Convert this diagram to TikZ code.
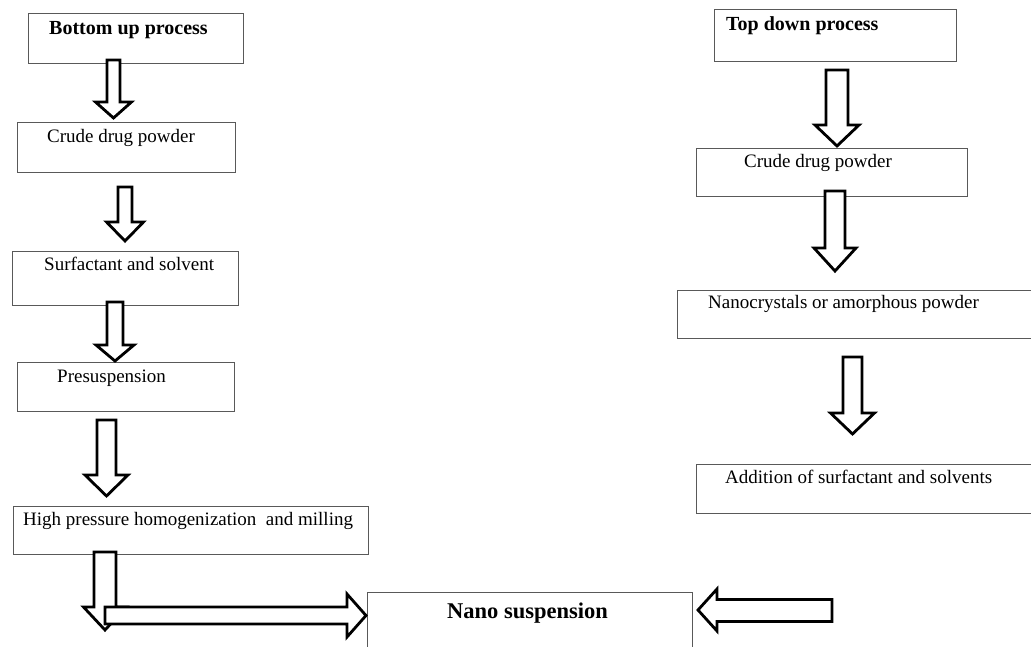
\documentclass[tikz,border=0pt]{standalone}
\usepackage{fontspec}
\setmainfont{Liberation Serif}
\begin{document}
\begin{tikzpicture}[x=1pt,y=-1pt,
  box/.style={draw=black!65,line width=1.1pt,fill=white,inner sep=0pt,anchor=north west},
  lbl/.style={anchor=base west,inner sep=0pt,font=\fontsize{19}{22}\selectfont},
  blbl/.style={anchor=base west,inner sep=0pt,font=\fontsize{20}{23}\selectfont\bfseries},
  blockarrow/.style={draw=black,line width=2.8pt,fill=white,line join=miter}]
\useasboundingbox[fill=white] (0,0) rectangle (1031,646);
\newcommand\downblock[6]{%
  \draw[blockarrow] ({#1-#5},#2) -- ({#1+#5},#2) -- ({#1+#5},#3) -- ({#1+#6},#3) -- (#1,#4) -- ({#1-#6},#3) -- ({#1-#5},#3) -- cycle;}
% boxes (left column)
\node[box,minimum width=215pt,minimum height=50pt] (bu) at (28,13) {};
\node[box,minimum width=218pt,minimum height=50pt] (cdl) at (17,122) {};
\node[box,minimum width=226pt,minimum height=54pt] (sas) at (12,251) {};
\node[box,minimum width=217pt,minimum height=49pt] (pre) at (17,362) {};
\node[box,minimum width=355pt,minimum height=48pt] (hph) at (13,506) {};
\node[box,minimum width=325pt,minimum height=70pt] (nano) at (367,592) {};
% boxes (right column)
\node[box,minimum width=242pt,minimum height=52pt] (td) at (714,9) {};
\node[box,minimum width=271pt,minimum height=48pt] (cdr) at (696,148) {};
\node[box,minimum width=360pt,minimum height=48pt] (nc) at (677,290) {};
\node[box,minimum width=345pt,minimum height=49pt] (add) at (696,464) {};
% texts
\node[blbl] (but) at (49,34) {Bottom up process};
\node[lbl] (cdlt) at (47,142) {Crude drug powder};
\node[lbl] (sast) at (44,270) {Surfactant and solvent};
\node[lbl] (pret) at (57,382) {Presuspension};
\node[lbl] (hpht) at (23,525) {High pressure homogenization\ \ and milling};
\node[anchor=base west,inner sep=0pt,font=\fontsize{22.5}{26}\selectfont\bfseries] (nanot) at (447,618) {Nano suspension};
\node[blbl] (tdt) at (726,30) {Top down process};
\node[lbl] (cdrt) at (744,167) {Crude drug powder};
\node[lbl] (nct) at (708,308) {Nanocrystals or amorphous powder};
\node[lbl] (addt) at (725,483) {Addition of surfactant and solvents};
% block arrows, left column
\downblock{113.5}{60}{102}{118}{6.5}{18}
\downblock{125}{187}{222}{241}{7}{18.5}
\downblock{115}{302}{345}{361}{8}{19}
\downblock{106.5}{420}{475}{496}{9.5}{21.5}
\downblock{105}{552}{607}{630}{11}{21.5}
\draw[blockarrow] (105,607) -- (347,607) -- (347,594) -- (366,615.5) -- (347,637) -- (347,624) -- (105,624) -- cycle;
% block arrows, right column
\downblock{837}{70}{125}{146}{11}{22}
\downblock{835}{191}{248}{271}{10}{21}
\downblock{852.5}{357}{413}{434}{9.5}{22}
\draw[blockarrow] (832,599.5) -- (717,599.5) -- (717,589) -- (698,610) -- (717,631) -- (717,621.5) -- (832,621.5) -- cycle;
\end{tikzpicture}
\end{document}
